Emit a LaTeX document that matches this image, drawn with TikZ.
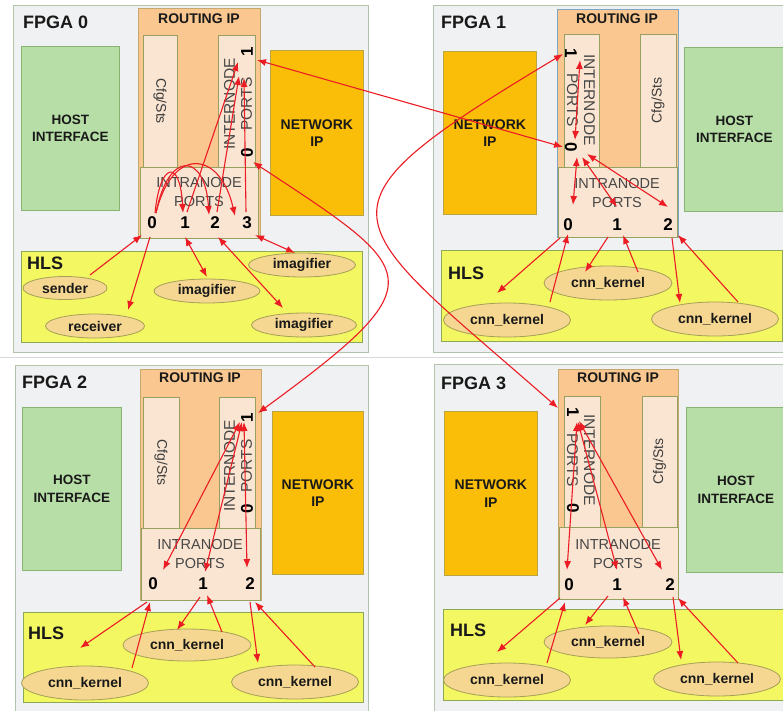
\documentclass[tikz,border=0pt]{standalone}
\usepackage{fontspec}
\setmainfont{Liberation Sans}
\usetikzlibrary{arrows.meta,shapes.geometric}
\definecolor{fpgabg}{RGB}{240,241,242}
\definecolor{fpgaline}{RGB}{178,196,172}
\definecolor{ripfill}{RGB}{249,199,143}
\definecolor{ripline}{RGB}{196,168,110}
\definecolor{ripblue}{RGB}{125,165,198}
\definecolor{subfill}{RGB}{250,229,210}
\definecolor{subline}{RGB}{150,160,95}
\definecolor{hostfill}{RGB}{182,222,166}
\definecolor{hostline}{RGB}{135,180,115}
\definecolor{netfill}{RGB}{251,190,8}
\definecolor{netline}{RGB}{185,165,70}
\definecolor{hlsfill}{RGB}{243,247,98}
\definecolor{hlsline}{RGB}{140,170,85}
\definecolor{kfill}{RGB}{246,215,146}
\definecolor{kline}{RGB}{165,160,85}
\definecolor{arrred}{RGB}{236,28,36}
\definecolor{txt}{RGB}{25,25,25}

\begin{document}
\begin{tikzpicture}[x=1pt,y=-1pt,
  fpga/.style={draw=fpgaline,fill=fpgabg,line width=.8pt,anchor=north west,inner sep=0pt},
  rip/.style={draw=ripline,fill=ripfill,line width=.8pt,anchor=north west,inner sep=0pt},
  subbox/.style={draw=subline,fill=subfill,line width=.8pt,anchor=north west,inner sep=0pt,font=\fontsize{14}{17}\selectfont,text=txt!85},
  hostbox/.style={draw=hostline,fill=hostfill,line width=.8pt,anchor=north west,inner sep=0pt,align=center,font=\bfseries\fontsize{13.5}{17.5}\selectfont,text=txt},
  netbox/.style={draw=netline,fill=netfill,line width=.8pt,anchor=north west,inner sep=0pt,align=center,font=\bfseries\fontsize{14}{17.5}\selectfont,text=txt},
  hlsbox/.style={draw=hlsline,fill=hlsfill,line width=.8pt,anchor=north west,inner sep=0pt},
  kern/.style={ellipse,draw=kline,fill=kfill,line width=.8pt,inner sep=0pt,font=\bfseries\fontsize{14}{16}\selectfont,text=txt},
  ttl/.style={anchor=west,inner sep=0pt,font=\bfseries\fontsize{18}{20}\selectfont,text=txt},
  riptitle/.style={inner sep=0pt,font=\bfseries\fontsize{14}{16}\selectfont,text=txt},
  lbl/.style={align=center,inner sep=0pt,font=\fontsize{14.5}{19}\selectfont,text=txt!80},
  rotlbl/.style={align=center,inner sep=0pt,font=\fontsize{15.5}{17}\selectfont,text=txt!80},
  digit/.style={inner sep=1pt,font=\bfseries\fontsize{17}{17}\selectfont,text=black},
  >={Latex[length=9pt,width=7pt]},
  arr/.style={->,draw=arrred,line width=1.1pt},
  darr/.style={<->,draw=arrred,line width=1.1pt}
]
\clip (0,0) rectangle (783,710);
\fill[white] (0,0) rectangle (783,710);
\draw[black!15,line width=.8pt] (0,357)--(783,357);

% FPGA 0
\node[fpga,minimum width=355pt,minimum height=347pt] (f0) at (13,5) {};
\node[ttl] (f0t) at (23,22) {FPGA 0};
\node[hostbox,minimum width=98pt,minimum height=164pt] (f0host) at (21,46) {HOST\\INTERFACE};
\node[netbox,minimum width=93pt,minimum height=165pt] (f0net) at (270,50) {NETWORK\\IP};
\node[rip,minimum width=122pt,minimum height=230pt] (f0rip) at (138,8) {};
\node[riptitle] (f0ript) at (199,19) {ROUTING IP};
\node[subbox,rotate=-90,anchor=center,minimum width=132pt,minimum height=34pt] (f0cfg) at (160,101) {Cfg/Sts};
\node[subbox,minimum width=37pt,minimum height=132pt] (f0inter) at (218,35) {};
\node[rotlbl,rotate=90] (f0intert) at (238,104) {INTERNODE\\PORTS};
\node[digit,rotate=90] (f0n1) at (247,52) {1};
\node[digit,rotate=90] (f0n0) at (247,153) {0};
\node[subbox,minimum width=118pt,minimum height=71pt] (f0intra) at (140,167) {};
\node[lbl] (f0intrat) at (199,192) {INTRANODE\\PORTS};
\node[digit] (f0p0) at (152,223) {0};
\node[digit] (f0p1) at (185,223) {1};
\node[digit] (f0p2) at (215,223) {2};
\node[digit] (f0p3) at (247,223) {3};
\node[hlsbox,minimum width=341pt,minimum height=91pt] (f0hls) at (21,251) {};
\node[ttl] (f0hlst) at (27,263) {HLS};
\node[kern,minimum width=84pt,minimum height=23pt] (f0snd) at (65,288) {sender};
\node[kern,minimum width=99pt,minimum height=24pt] (f0rcv) at (95,326) {receiver};
\node[kern,minimum width=106pt,minimum height=24pt] (f0img1) at (207,291) {imagifier};
\node[kern,minimum width=107pt,minimum height=24pt] (f0img2) at (302,265) {imagifier};
\node[kern,minimum width=105pt,minimum height=24pt] (f0img3) at (304,325) {imagifier};

% FPGA 1
\node[fpga,minimum width=400pt,minimum height=347pt] (f1) at (433,5) {};
\node[ttl] (f1t) at (441,22) {FPGA 1};
\node[netbox,minimum width=93pt,minimum height=163pt] (f1net) at (443,51) {NETWORK\\IP};
\node[hostbox,minimum width=100pt,minimum height=164pt] (f1host) at (684,47) {HOST\\INTERFACE};
\node[rip,draw=ripblue,minimum width=121pt,minimum height=228pt] (f1rip) at (557,9) {};
\node[riptitle] (f1ript) at (617,19) {ROUTING IP};
\node[subbox,minimum width=35pt,minimum height=133pt] (f1inter) at (564,34) {};
\node[rotlbl,rotate=-90] (f1intert) at (581,100) {INTERNODE\\PORTS};
\node[digit,rotate=-90] (f1n1) at (571,53) {1};
\node[digit,rotate=-90] (f1n0) at (571,147) {0};
\node[subbox,rotate=90,anchor=center,minimum width=133pt,minimum height=36pt] (f1cfg) at (658,100.5) {Cfg/Sts};
\node[subbox,minimum width=119pt,minimum height=70pt] (f1intra) at (558,167) {};
\node[lbl] (f1intrat) at (617,193) {INTRANODE\\PORTS};
\node[digit] (f1p0) at (568,225) {0};
\node[digit] (f1p1) at (617,225) {1};
\node[digit] (f1p2) at (668,225) {2};
\node[hlsbox,minimum width=341pt,minimum height=91pt] (f1hls) at (441,250) {};
\node[ttl] (f1hlst) at (448,273) {HLS};
\node[kern,minimum width=128pt,minimum height=34pt] (f1k1) at (608,283) {cnn\_kernel};
\node[kern,minimum width=127pt,minimum height=34pt] (f1k2) at (507,320) {cnn\_kernel};
\node[kern,minimum width=127pt,minimum height=34pt] (f1k3) at (715,319) {cnn\_kernel};

% FPGA 2
\node[fpga,minimum width=353pt,minimum height=400pt] (f2) at (15,365) {};
\node[ttl] (f2t) at (22,382) {FPGA 2};
\node[hostbox,minimum width=99pt,minimum height=163pt] (f2host) at (22,407) {HOST\\INTERFACE};
\node[netbox,minimum width=91pt,minimum height=163pt] (f2net) at (272,411) {NETWORK\\IP};
\node[rip,minimum width=121pt,minimum height=231pt] (f2rip) at (140,369) {};
\node[riptitle] (f2ript) at (200,378) {ROUTING IP};
\node[subbox,rotate=-90,anchor=center,minimum width=131pt,minimum height=36pt] (f2cfg) at (161,462.5) {Cfg/Sts};
\node[subbox,minimum width=36pt,minimum height=131pt] (f2inter) at (219,397) {};
\node[rotlbl,rotate=90] (f2intert) at (238,466) {INTERNODE\\PORTS};
\node[digit,rotate=90] (f2n1) at (247,418) {1};
\node[digit,rotate=90] (f2n0) at (247,509) {0};
\node[subbox,minimum width=119pt,minimum height=72pt] (f2intra) at (141,528) {};
\node[lbl] (f2intrat) at (200,554) {INTRANODE\\PORTS};
\node[digit] (f2p0) at (153,584) {0};
\node[digit] (f2p1) at (203,584) {1};
\node[digit] (f2p2) at (250,584) {2};
\node[hlsbox,minimum width=340pt,minimum height=90pt] (f2hls) at (23,612) {};
\node[ttl] (f2hlst) at (28,633) {HLS};
\node[kern,minimum width=128pt,minimum height=32pt] (f2k1) at (187,645) {cnn\_kernel};
\node[kern,minimum width=127pt,minimum height=34pt] (f2k2) at (85,683) {cnn\_kernel};
\node[kern,minimum width=127pt,minimum height=34pt] (f2k3) at (295,682) {cnn\_kernel};

% FPGA 3
\node[fpga,minimum width=400pt,minimum height=400pt] (f3) at (434,364) {};
\node[ttl] (f3t) at (441,383) {FPGA 3};
\node[netbox,minimum width=93pt,minimum height=164pt] (f3net) at (444,411) {NETWORK\\IP};
\node[hostbox,minimum width=99pt,minimum height=165pt] (f3host) at (686,407) {HOST\\INTERFACE};
\node[rip,minimum width=120pt,minimum height=230pt] (f3rip) at (558,369) {};
\node[riptitle] (f3ript) at (618,378) {ROUTING IP};
\node[subbox,minimum width=36pt,minimum height=131pt] (f3inter) at (564,396) {};
\node[rotlbl,rotate=-90] (f3intert) at (581,460) {INTERNODE\\PORTS};
\node[digit,rotate=-90] (f3n1) at (573,412) {1};
\node[digit,rotate=-90] (f3n0) at (573,508) {0};
\node[subbox,rotate=90,anchor=center,minimum width=131pt,minimum height=35pt] (f3cfg) at (659.5,461.5) {Cfg/Sts};
\node[subbox,minimum width=119pt,minimum height=72pt] (f3intra) at (559,527) {};
\node[lbl] (f3intrat) at (618,554) {INTRANODE\\PORTS};
\node[digit] (f3p0) at (569,585) {0};
\node[digit] (f3p1) at (617,585) {1};
\node[digit] (f3p2) at (670,585) {2};
\node[hlsbox,minimum width=345pt,minimum height=91pt] (f3hls) at (443,609) {};
\node[ttl] (f3hlst) at (450,630) {HLS};
\node[kern,minimum width=128pt,minimum height=32pt] (f3k1) at (608,642) {cnn\_kernel};
\node[kern,minimum width=127pt,minimum height=34pt] (f3k2) at (507,680) {cnn\_kernel};
\node[kern,minimum width=127pt,minimum height=34pt] (f3k3) at (717,679) {cnn\_kernel};

% FPGA 0 connectors
\draw[arr] ([shift={(3,-10)}]f0p0.center) .. controls (160,162) and (180,158) .. ([shift={(-2,-10)}]f0p1.center);
\draw[arr] ([shift={(4,-10)}]f0p0.center) .. controls (168,150) and (205,152) .. ([shift={(-6,-8)}]f0p2.center);
\draw[arr] ([shift={(4,-10)}]f0p0.center) .. controls (172,146) and (220,150) .. ([shift={(-12,-7)}]f0p3.center);
\draw[arr] ([shift={(2,-11)}]f0p1.center) -- ([shift={(-9,10)}]f0n1.center);
\draw[arr] ([shift={(2,-11)}]f0p2.center) -- ([shift={(-8,24)}]f0n1.center);
\draw[arr] ([shift={(-1,-11)}]f0p3.center) -- ([shift={(-3,26)}]f0n1.center);
\draw[arr] ([shift={(25,-13)}]f0snd.center) -- ([shift={(-10,12)}]f0p0.center);
\draw[arr] ([shift={(-2,14)}]f0p0.center) -- ([shift={(33,-16)}]f0rcv.center);
\draw[darr] ([shift={(0,14)}]f0p1.center) -- ([shift={(0,-14)}]f0img1.center);
\draw[darr] ([shift={(3,14)}]f0p2.center) -- ([shift={(-21,-17)}]f0img3.center);
\draw[darr] ([shift={(8,12)}]f0p3.center) -- ([shift={(-7,-12)}]f0img2.center);

% FPGA 1 connectors
\draw[darr] ([shift={(9,7)}]f1n1.center) -- ([shift={(4,-7)}]f1n0.center);
\draw[darr] ([shift={(6,10)}]f1n0.center) -- ([shift={(5,-20)}]f1p0.center);
\draw[darr] ([shift={(11,10)}]f1n0.center) -- ([shift={(0,-18)}]f1p1.center);
\draw[darr] ([shift={(16,7)}]f1n0.center) -- ([shift={(0,-18)}]f1p2.center);
\draw[arr] ([shift={(-8,13)}]f1p0.center) -- ([shift={(-10,-27)}]f1k2.center);
\draw[arr] ([shift={(43,-18)}]f1k2.center) -- ([shift={(0,9)}]f1p0.center);
\draw[arr] ([shift={(-9,12)}]f1p1.center) -- ([shift={(-23,-11)}]f1k1.center);
\draw[arr] ([shift={(30,-11)}]f1k1.center) -- ([shift={(6,10)}]f1p1.center);
\draw[arr] ([shift={(4,13)}]f1p2.center) -- ([shift={(-35,-16)}]f1k3.center);
\draw[arr] ([shift={(23,-17)}]f1k3.center) -- ([shift={(10,10)}]f1p2.center);

% FPGA 2 connectors
\draw[darr] ([shift={(-7,4)}]f2n1.center) -- ([shift={(10,-14)}]f2p0.center);
\draw[darr] ([shift={(-5,4)}]f2n1.center) -- ([shift={(2,-12)}]f2p1.center);
\draw[darr] ([shift={(-3,4)}]f2n1.center) -- ([shift={(-3,-16)}]f2p2.center);
\draw[arr] ([shift={(-6,18)}]f2p0.center) -- ([shift={(-5,-35)}]f2k2.center);
\draw[arr] ([shift={(47,-15)}]f2k2.center) -- ([shift={(-3,18)}]f2p0.center);
\draw[arr] ([shift={(-3,13)}]f2p1.center) -- ([shift={(-10,-15)}]f2k1.center);
\draw[arr] ([shift={(35,-13)}]f2k1.center) -- ([shift={(4,11)}]f2p1.center);
\draw[arr] ([shift={(0,18)}]f2p2.center) -- ([shift={(-37,-19)}]f2k3.center);
\draw[arr] ([shift={(20,-15)}]f2k3.center) -- ([shift={(5,18)}]f2p2.center);

% FPGA 3 connectors
\draw[darr] ([shift={(4,10)}]f3n1.center) -- ([shift={(-2,-15)}]f3p0.center);
\draw[darr] ([shift={(5,10)}]f3n1.center) -- ([shift={(0,-15)}]f3p1.center);
\draw[darr] ([shift={(6,9)}]f3n1.center) -- ([shift={(-8,-15)}]f3p2.center);
\draw[arr] ([shift={(-9,13)}]f3p0.center) -- ([shift={(-10,-28)}]f3k2.center);
\draw[arr] ([shift={(40,-17)}]f3k2.center) -- ([shift={(-4,17)}]f3p0.center);
\draw[arr] ([shift={(-9,11)}]f3p1.center) -- ([shift={(-23,-17)}]f3k1.center);
\draw[arr] ([shift={(31,-8)}]f3k1.center) -- ([shift={(6,12)}]f3p1.center);
\draw[arr] ([shift={(3,12)}]f3p2.center) -- ([shift={(-36,-19)}]f3k3.center);
\draw[arr] ([shift={(21,-16)}]f3k3.center) -- ([shift={(8,13)}]f3p2.center);

% links between boards
\draw[darr] ([shift={(10,8)}]f0n1.center) -- ([shift={(-8,0)}]f1n0.center);
\draw[darr] ([shift={(6,9)}]f0n0.center) .. controls (420,272) and (440,280) .. ([shift={(11,-5)}]f2n1.center);
\draw[darr] ([shift={(-8,1)}]f1n1.center) .. controls (298,213) and (338,215) .. ([shift={(-15,-4)}]f3n1.center);
\end{tikzpicture}
\end{document}
